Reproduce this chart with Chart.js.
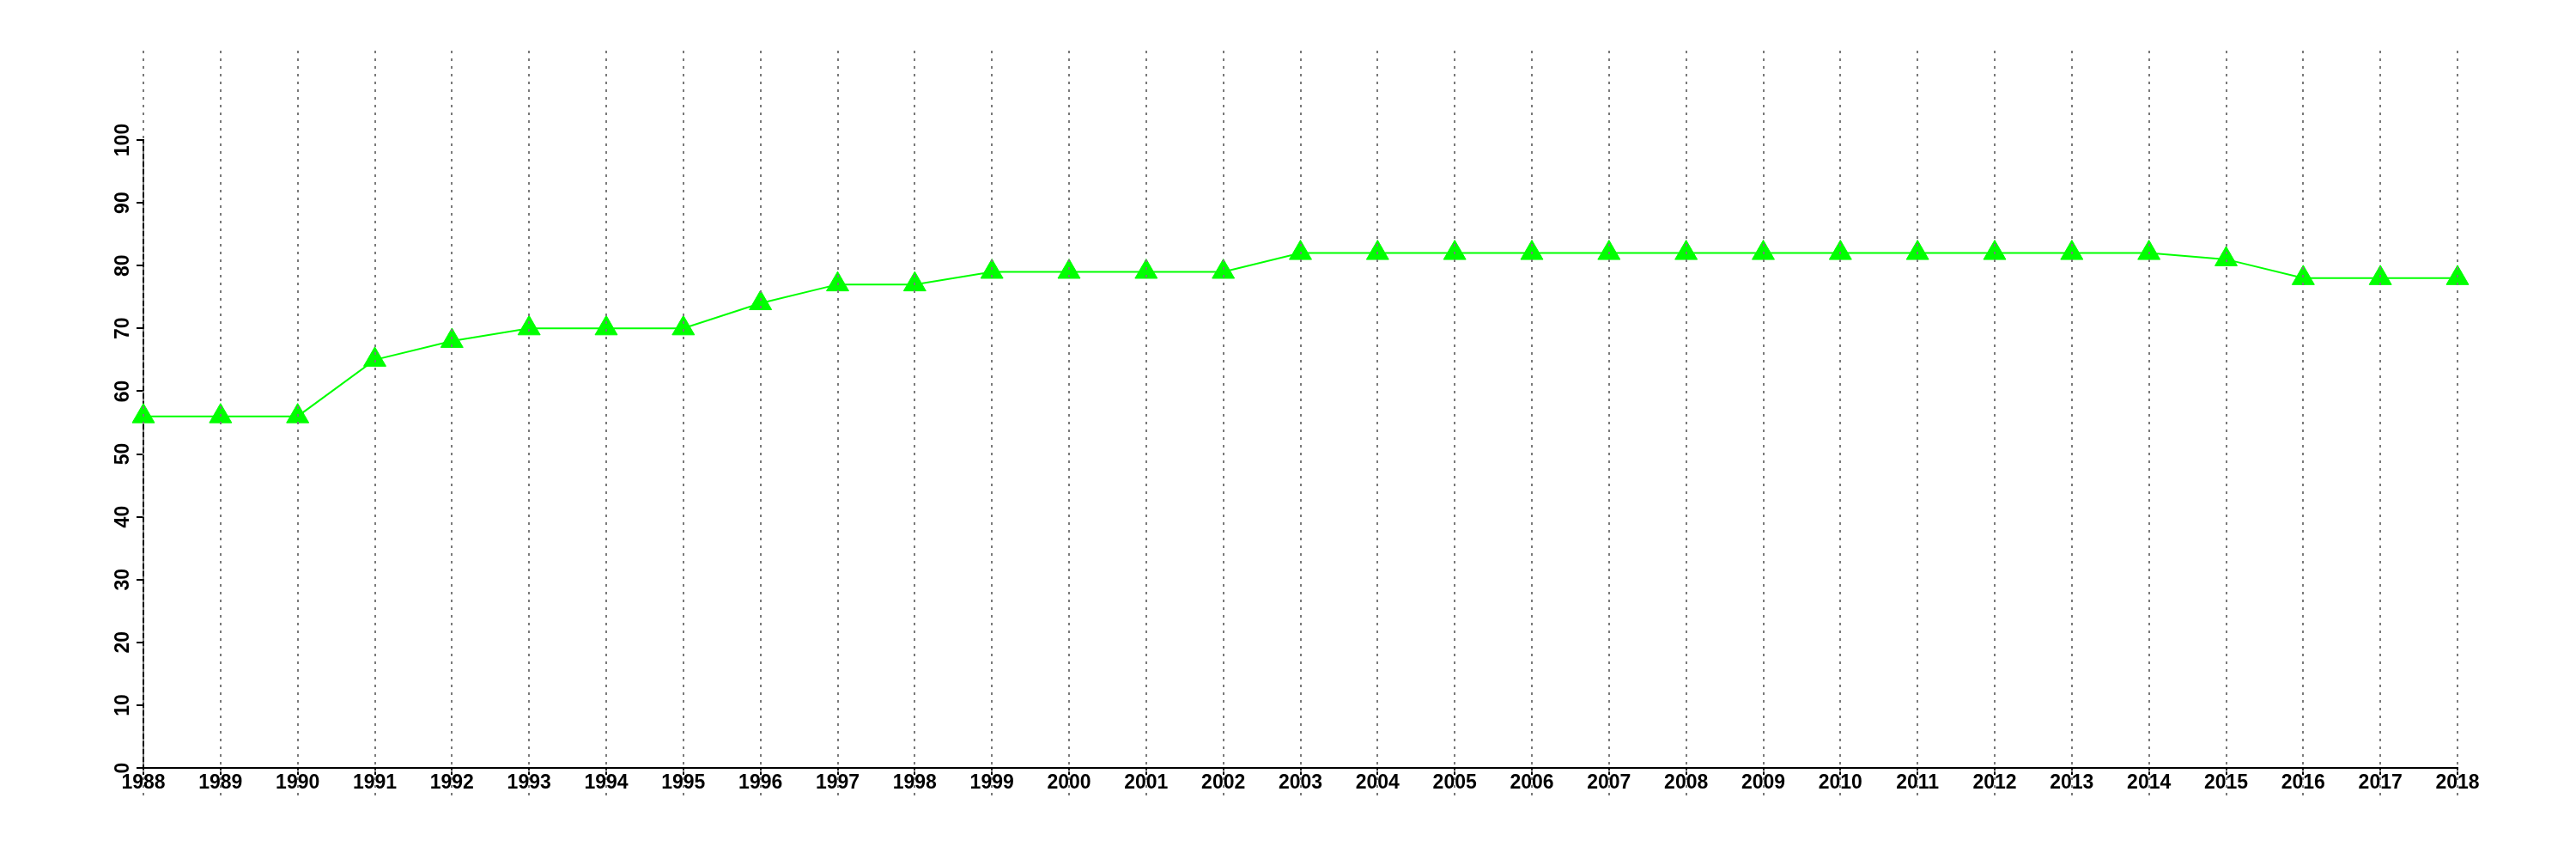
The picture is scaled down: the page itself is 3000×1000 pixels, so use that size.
<!DOCTYPE html>
<html>
<head>
<meta charset="utf-8">
<script src="https://cdn.jsdelivr.net/npm/chart.js@4.4.1/dist/chart.umd.min.js"></script>
<style>
  html, body { margin: 0; padding: 0; background: #fff; }
  #wrap { width: 3000px; height: 1000px; }
</style>
</head>
<body>
<div id="wrap"><canvas id="chart" width="3000" height="1000"></canvas></div>
<script>
// Data
const years = ['1988', '1989', '1990', '1991', '1992', '1993', '1994', '1995', '1996', '1997',
  '1998', '1999', '2000', '2001', '2002', '2003', '2004', '2005', '2006', '2007',
  '2008', '2009', '2010', '2011', '2012', '2013', '2014', '2015', '2016', '2017', '2018'];
const values = [56, 56, 56, 65, 68, 70, 70, 70, 74, 77,
  77, 79, 79, 79, 79, 82, 82, 82, 82, 82,
  82, 82, 82, 82, 82, 82, 82, 81, 78, 78, 78];
const yMin = 0;
const yMax = 100;
const yStep = 10;

const tickFont = { family: 'Liberation Sans', size: 23, weight: 'bold' };

// Dotted vertical lines at every year, drawn over the points like the original
const dottedYears = {
  id: 'dottedYears',
  afterDatasetsDraw(chart) {
    const { ctx, chartArea } = chart;
    const x = chart.scales.x;
    ctx.save();
    ctx.strokeStyle = '#7a7a7a';
    ctx.lineWidth = 2;
    ctx.setLineDash([3, 6]);
    x.ticks.forEach((t, i) => {
      const px = Math.round(x.getPixelForTick(i));
      ctx.beginPath();
      ctx.moveTo(px, chartArea.top - 104);
      ctx.lineTo(px, chartArea.bottom + 33);
      ctx.stroke();
    });
    ctx.restore();
  }
};

new Chart(document.getElementById('chart'), {
  type: 'line',
  data: {
    labels: years,
    datasets: [{
      data: values,
      borderColor: '#00ff00',
      borderWidth: 2,
      backgroundColor: '#00ff00',
      pointStyle: 'triangle',
      pointRadius: 15,
      pointBorderWidth: 1,
      pointBorderColor: '#00ff00',
      pointBackgroundColor: '#00ff00',
      tension: 0
    }]
  },
  options: {
    responsive: false,
    animation: false,
    layout: { padding: { left: 0, right: 138, top: 163, bottom: 0 } },
    plugins: {
      legend: { display: false },
      tooltip: { enabled: false }
    },
    scales: {
      x: {
        offset: false,
        afterFit(scale) { scale.height = 106; },
        border: { display: true, color: '#000', width: 2 },
        grid: { drawOnChartArea: false, color: '#000', lineWidth: 2, tickLength: 8 },
        ticks: { color: '#000', font: tickFont, padding: -4, maxRotation: 0, autoSkip: false }
      },
      y: {
        min: yMin,
        max: yMax,
        afterFit(scale) { scale.width = 167; },
        border: { display: true, color: '#000', width: 2 },
        grid: { drawOnChartArea: false, color: '#000', lineWidth: 2, tickLength: 8 },
        ticks: {
          stepSize: yStep,
          color: '#000',
          font: tickFont,
          minRotation: 90,
          maxRotation: 90,
          crossAlign: 'center',
          padding: -4
        }
      }
    }
  },
  plugins: [dottedYears]
});
</script>
</body>
</html>
